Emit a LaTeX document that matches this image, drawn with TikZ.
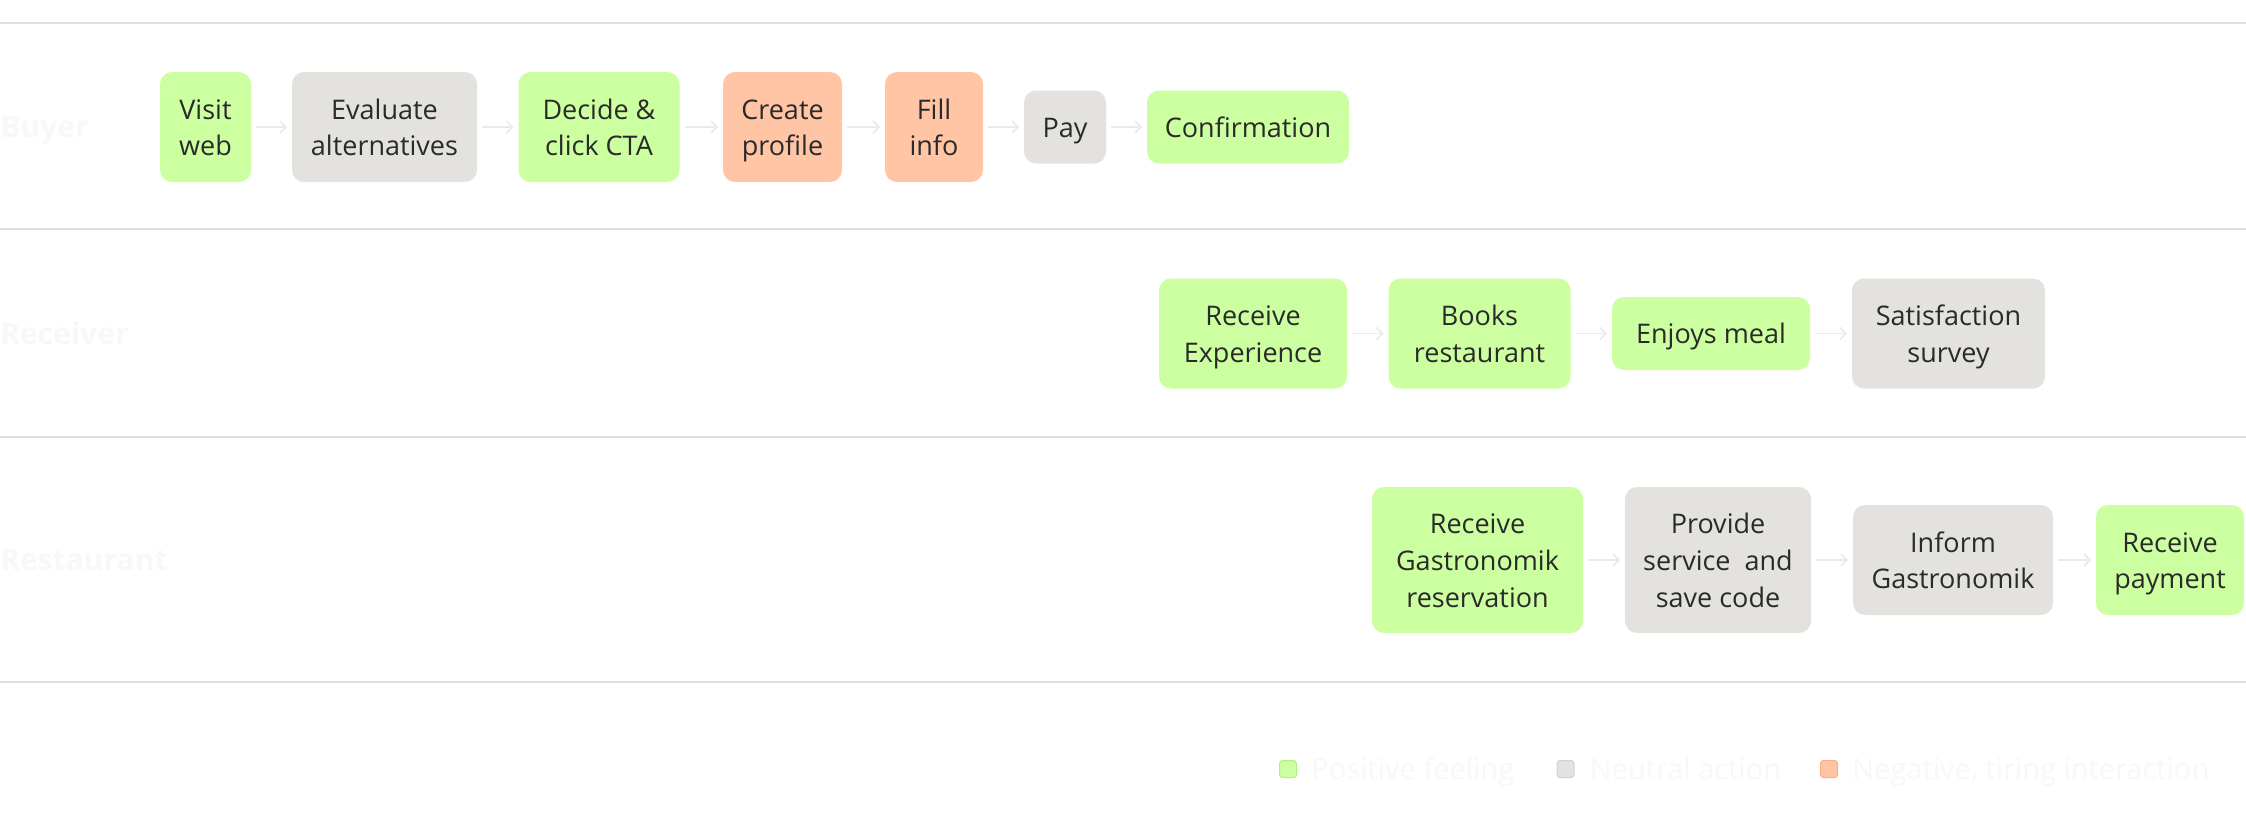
\documentclass[tikz,border=0pt]{standalone}
\usepackage{fontspec}
\setmainfont{Open Sans}
\usepackage{xcolor}
\usetikzlibrary{arrows.meta}
\usetikzlibrary{positioning}

\definecolor{posfill}{HTML}{CCFFA0}
\definecolor{neufill}{HTML}{E3E2DE}
\definecolor{negfill}{HTML}{FFC5A5}
\definecolor{posedge}{HTML}{B4F080}
\definecolor{neuedge}{HTML}{D0D0CC}
\definecolor{negedge}{HTML}{FFAA80}
\definecolor{inkdark}{HTML}{2A2A2A}
\definecolor{faint}{HTML}{F8F8F8}
\definecolor{rulegrey}{HTML}{DEDEDE}
\definecolor{arrowgrey}{HTML}{EAEAE6}

\tikzset{
  card/.style={rounded corners=6pt, align=center, inner xsep=4pt, inner ysep=0pt, outer sep=0pt,
    text=inkdark, font=\fontsize{13.5}{18.4}\selectfont},
  posbox/.style={card, fill=posfill},
  neubox/.style={card, fill=neufill},
  negbox/.style={card, fill=negfill},
  oneline/.style={minimum height=36.5pt, text height=14.44pt, text depth=3.96pt},
  twoline/.style={minimum height=55pt, text height=32.84pt, text depth=3.96pt},
  threeline/.style={minimum height=73pt, text height=51.24pt, text depth=3.96pt},
  flow/.style={->, >={Straight Barb[length=3pt, width=6pt]}, draw=arrowgrey,
    line width=0.75pt, shorten >=2.5pt, shorten <=2.5pt},
  lanename/.style={inner sep=0pt, text=faint, text height=10.7pt, text depth=0pt,
    font=\bfseries\fontsize{15}{18}\selectfont},
  keybox/.style={minimum size=8.5pt, inner sep=0pt, rounded corners=1.5pt, line width=0.5pt},
  keytext/.style={inner sep=0pt, text=faint, text height=10.35pt, text depth=0pt,
    font=\fontsize{14.5}{17}\selectfont},
}

\begin{document}
\begin{tikzpicture}[x=0.5pt, y=-0.5pt]

%page
\fill[white] (0,0) rectangle (2246,832);
\useasboundingbox (0,0) rectangle (2246,832);

%lines
\draw[rulegrey, line width=1pt] (0,23) -- (2246,23);
\draw[rulegrey, line width=1pt] (0,229) -- (2246,229);
\draw[rulegrey, line width=1pt] (0,437) -- (2246,437);
\draw[rulegrey, line width=1pt] (0,682) -- (2246,682);

%lane labels
\node[lanename, anchor=west] (buyer) at (0,127) {Buyer};
\node[lanename, anchor=west] (receiver) at (0,334) {Receiver};
\node[lanename, anchor=west] (restaurant) at (0,560) {Restaurant};

%buyer
\node[posbox, twoline, minimum width=45.5pt] (visit) at (205.5,127) {Visit\\web};
\node[neubox, twoline, minimum width=92.5pt, right=20.5pt of visit] (evaluate) {Evaluate\\alternatives};
\node[posbox, twoline, minimum width=80.5pt, right=20.75pt of evaluate] (decide) {Decide \&\\click CTA};
\node[negbox, twoline, minimum width=59.5pt, right=21.75pt of decide] (create) {Create\\profile};
\node[negbox, twoline, minimum width=49pt, right=21.5pt of create] (fillinfo) {Fill\\info};
\node[neubox, oneline, minimum width=41pt, right=20.5pt of fillinfo] (pay) {Pay};
\node[posbox, oneline, minimum width=101pt, right=20.5pt of pay] (confirm) {Confirmation};

%receiver
\node[posbox, twoline, minimum width=94pt] (experience) at (1253,333.5) {Receive\\Experience};
\node[posbox, twoline, minimum width=91pt, right=20.75pt of experience] (books) {Books\\restaurant};
\node[posbox, oneline, minimum width=99pt, right=20.75pt of books] (enjoy) {Enjoys meal};
\node[neubox, twoline, minimum width=96.5pt, right=21pt of enjoy] (survey) {Satisfaction\\survey};

%restaurant
\node[posbox, threeline, minimum width=105.5pt] (reserve) at (1477.5,560) {Receive\\Gastronomik\\reservation};
\node[neubox, threeline, minimum width=93pt, right=21pt of reserve] (service) {Provide\\service~ and\\save code};
\node[neubox, twoline, minimum width=100pt, right=21pt of service] (inform) {Inform\\Gastronomik};
\node[posbox, twoline, minimum width=74pt, right=21.5pt of inform] (payment) {Receive\\payment};

%arrows
\draw[flow] (visit) -- (evaluate);
\draw[flow] (evaluate) -- (decide);
\draw[flow] (decide) -- (create);
\draw[flow] (create) -- (fillinfo);
\draw[flow] (fillinfo) -- (pay);
\draw[flow] (pay) -- (confirm);
\draw[flow] (experience) -- (books);
\draw[flow] (books) -- (enjoy);
\draw[flow] (enjoy) -- (survey);
\draw[flow] (reserve) -- (service);
\draw[flow] (service) -- (inform);
\draw[flow] (inform) -- (payment);

%legend
\node[keybox, fill=posfill, draw=posedge] (keypos) at (1288,769) {};
\node[keytext, right=7pt of keypos] (keypostext) {Positive feeling};
\node[keybox, fill=neufill, draw=neuedge] (keyneu) at (1565.5,769) {};
\node[keytext, right=7.5pt of keyneu] (keyneutext) {Neutral action};
\node[keybox, fill=negfill, draw=negedge] (keyneg) at (1829,769) {};
\node[keytext, right=7pt of keyneg] (keynegtext) {Negative, tiring interaction};

\end{tikzpicture}
\end{document}
